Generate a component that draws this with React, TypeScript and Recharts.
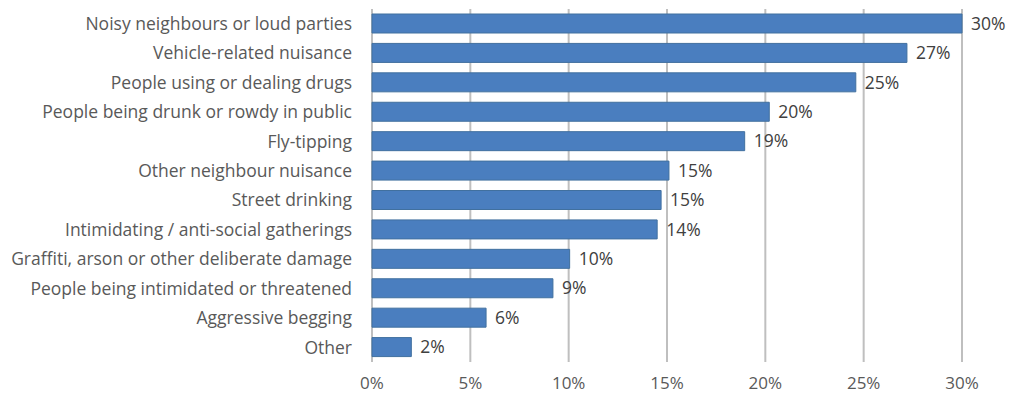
import React from 'react';
import { BarChart, Bar, XAxis, YAxis, CartesianGrid, LabelList } from 'recharts';

const categories = [
  'Noisy neighbours or loud parties',
  'Vehicle-related nuisance',
  'People using or dealing drugs',
  'People being drunk or rowdy in public',
  'Fly-tipping',
  'Other neighbour nuisance',
  'Street drinking',
  'Intimidating / anti-social gatherings',
  'Graffiti, arson or other deliberate damage',
  'People being intimidated or threatened',
  'Aggressive begging',
  'Other',
];
const values = [30, 27.2, 24.6, 20.2, 18.95, 15.1, 14.7, 14.5, 10.05, 9.2, 5.8, 2.0];
const valueLabels = ['30%', '27%', '25%', '20%', '19%', '15%', '15%', '14%', '10%', '9%', '6%', '2%'];
const xTicks = [0, 5, 10, 15, 20, 25, 30];

const data = categories.map((name, i) => ({ name, value: values[i], label: valueLabels[i] }));

const FONT = "'Open Sans', sans-serif";
const FS = 17.5;

export default function App() {
  return (
    <div style={{ position: 'absolute', left: 0, top: 0, width: 1011, height: 396, background: '#fff' }}>
      <BarChart
        width={1011}
        height={396}
        data={data}
        layout="vertical"
        margin={{ top: 9, right: 49, bottom: 0, left: 0 }}
        barCategoryGap="17%"
      >
        <CartesianGrid horizontal={false} vertical={true} stroke="#bfbfbf" strokeWidth={2} />
        <XAxis
          type="number"
          domain={[0, 30]}
          ticks={xTicks}
          tickFormatter={(v: number) => `${v}%`}
          axisLine={false}
          tickLine={false}
          tickSize={0}
          tickMargin={15}
          height={34}
          tick={{ fill: '#595959', fontSize: 17, fontFamily: FONT }}
          interval={0}
        />
        <YAxis
          type="category"
          dataKey="name"
          width={372}
          axisLine={false}
          tickLine={false}
          tickSize={0}
          tickMargin={20}
          interval={0}
          tick={{ fill: '#595959', fontSize: FS, fontFamily: FONT }}
        />
        <Bar dataKey="value" fill="#4a7ebf" stroke="#41709f" strokeWidth={1} isAnimationActive={false}>
          <LabelList dataKey="label" position="right" offset={9} fill="#404040" fontSize={FS} fontFamily={FONT} />
        </Bar>
      </BarChart>
    </div>
  );
}
